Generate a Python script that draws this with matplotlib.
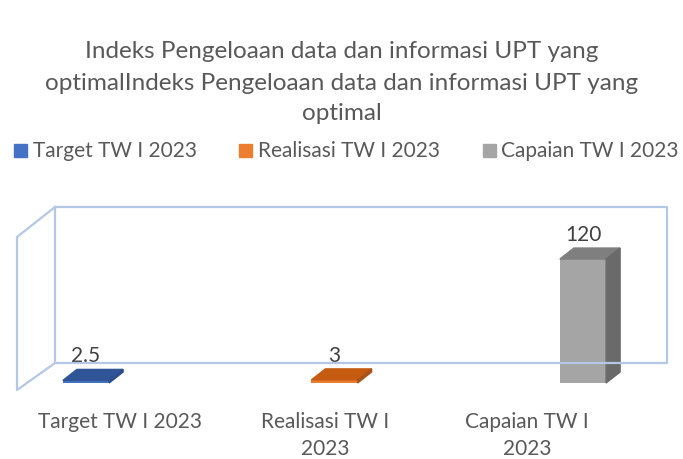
import numpy as np
import matplotlib.pyplot as plt
from matplotlib.patches import Polygon, Rectangle
from matplotlib.lines import Line2D

plt.rcParams['font.family'] = ['Lato', 'DejaVu Sans']

# data
categories = [['Target TW I 2023'], ['Realisasi TW I', '2023'], ['Capaian TW I', '2023']]
series = ['Target TW I 2023', 'Realisasi TW I 2023', 'Capaian TW I 2023']
values = [2.5, 3, 120]
value_labels = ['2.5', '3', '120']
title_lines = ['Indeks Pengeloaan data dan informasi UPT yang',
               'optimalIndeks Pengeloaan data dan informasi UPT yang',
               'optimal']

front_col = ['#4472C4', '#ED7D31', '#A5A5A5']
top_col = ['#2F5597', '#C55A11', '#7F7F7F']
side_col = ['#2B4F8C', '#A9541A', '#6A6A6A']
wall_col = '#B4C7E7'
text_col = '#595959'

W, H = 683, 459
fig = plt.figure(figsize=(W / 100, H / 100), dpi=100)
ax = fig.add_axes([0, 0, 1, 1])
ax.axis('off')


def fp(x, y):
    # pixel position (from top-left) -> figure fraction
    return x / W, 1 - y / H


# axis scale: category spacing and value units in pixels
px_x = 248.5
px_y = 1.033
x0, y0 = 86, H - 383
ax.set_xlim(-x0 / px_x, (W - x0) / px_x)
ax.set_ylim(-y0 / px_y, (H - y0) / px_y)

# walls of the 3D box
back = [fp(55, 207), fp(667, 207), fp(667, 363), fp(55, 363), fp(55, 207)]
left = [fp(55, 207), fp(17, 237), fp(17, 390), fp(55, 363)]
for pts in (back, left):
    xs, ys = zip(*pts)
    fig.add_artist(Line2D(xs, ys, color=wall_col, lw=1.6, zorder=1))

# bars
width = 0.186
ddx = 14 / px_x
ddy = 11 / px_y
xpos = np.arange(len(values))
ax.bar(xpos, values, width, color=front_col, zorder=3)
for i, v in enumerate(values):
    l, r = xpos[i] - width / 2, xpos[i] + width / 2
    ax.add_patch(Polygon([(l, v), (r, v), (r + ddx, v + ddy), (l + ddx, v + ddy)],
                         closed=True, color=top_col[i], zorder=3))
    ax.add_patch(Polygon([(r, 0), (r + ddx, ddy), (r + ddx, v + ddy), (r, v)],
                         closed=True, color=side_col[i], zorder=3))
    ax.text(xpos[i], v + ddy + 7 / px_y, value_labels[i], ha='center', va='baseline',
            fontsize=15, color='#404040', zorder=4)

# category labels
for cx, lines in zip([120, 325, 527], categories):
    for k, line in enumerate(lines):
        fig.text(*fp(cx, 422 + 27 * k), line, ha='center', va='center', fontsize=15,
                 color=text_col)

# title
for k, line in enumerate(title_lines):
    fig.text(*fp(342, 52 + 31 * k), line, ha='center', va='center', fontsize=17.5,
             color=text_col)

# legend
for sx, tx, name, c in zip([14, 239, 483], [33, 258, 501], series, front_col):
    x, y = fp(sx, 157)
    fig.add_artist(Rectangle((x, y), 13 / W, 13 / H, color=c, transform=fig.transFigure))
    fig.text(*fp(tx, 151), name, ha='left', va='center', fontsize=15, color=text_col)

plt.savefig('out.png', dpi=100)
plt.close()
